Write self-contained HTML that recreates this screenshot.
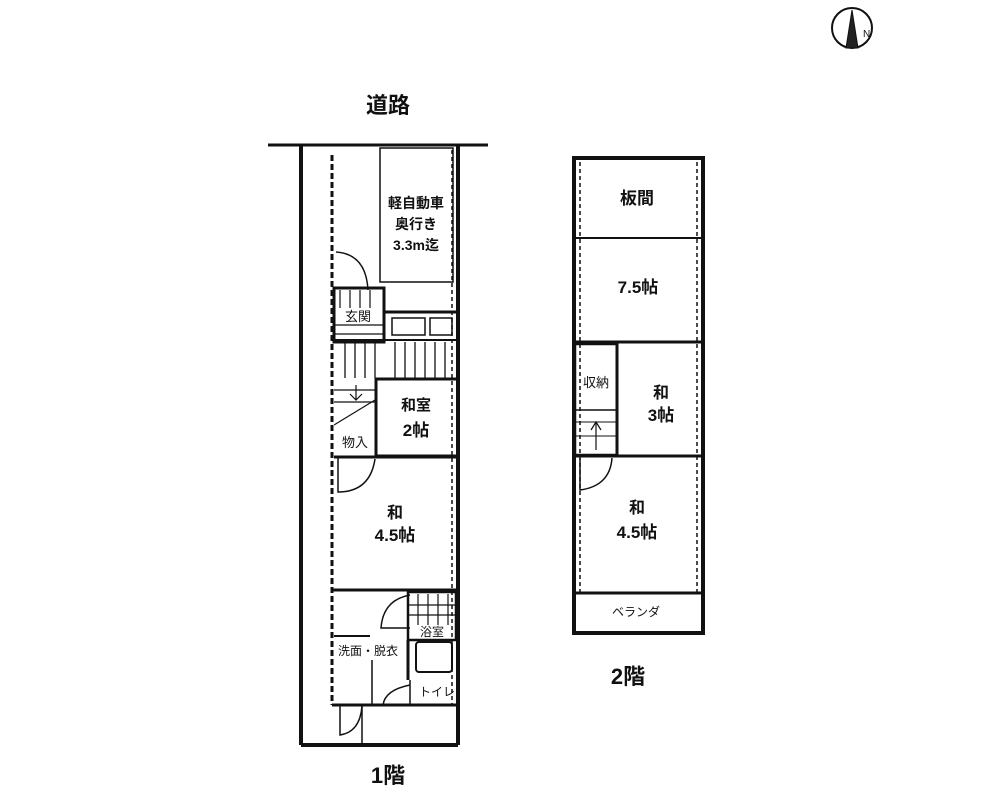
<!DOCTYPE html>
<html><head><meta charset="utf-8"><style>
body{margin:0;background:#fff}
svg{display:block}
text{font-family:"Liberation Sans","Noto Sans CJK JP",sans-serif;fill:#111}
.b{font-weight:bold}
</style></head><body>
<svg width="1000" height="795" viewBox="0 0 1000 795" xmlns="http://www.w3.org/2000/svg">
<g fill="none" stroke="#111">
<!-- north -->
<circle cx="852" cy="28" r="20" stroke-width="2"/>
<path d="M852 10 L846 48 L858 48 Z" fill="#222" stroke-width="1"/>
<!-- road -->
<line x1="268" y1="145" x2="488" y2="145" stroke-width="3"/>
<!-- 1F outer -->
<line x1="301" y1="145" x2="301" y2="745" stroke-width="4"/>
<line x1="458" y1="145" x2="458" y2="745" stroke-width="4"/>
<line x1="301" y1="745" x2="458" y2="745" stroke-width="4"/>
<line x1="332" y1="155" x2="332" y2="705" stroke-width="3" stroke-dasharray="6 3"/>
<line x1="452" y1="150" x2="452" y2="705" stroke-width="1.5" stroke-dasharray="4 3"/>
<!-- parking -->
<rect x="380" y="148" width="73" height="134" stroke-width="1.5"/>
<!-- entry door -->
<path d="M336 252 Q366 254 368 290" stroke-width="1.5"/>
<!-- genkan -->
<rect x="334" y="288" width="50" height="54" stroke-width="3"/>
<g stroke-width="1.2">
<line x1="340" y1="290" x2="340" y2="308"/><line x1="350" y1="290" x2="350" y2="308"/><line x1="360" y1="290" x2="360" y2="308"/><line x1="370" y1="290" x2="370" y2="308"/>
<line x1="334" y1="325" x2="384" y2="325"/><line x1="334" y1="334" x2="384" y2="334"/>
</g>
<!-- kitchen -->
<line x1="385" y1="312" x2="458" y2="312" stroke-width="3"/>
<rect x="392" y="318" width="33" height="17" stroke-width="1.5"/>
<rect x="430" y="318" width="22" height="17" stroke-width="1.5"/>
<line x1="334" y1="340" x2="458" y2="340" stroke-width="2"/>
<g stroke-width="1.3">
<line x1="345" y1="342" x2="345" y2="378"/><line x1="355" y1="342" x2="355" y2="378"/><line x1="365" y1="342" x2="365" y2="378"/><line x1="375" y1="342" x2="375" y2="378"/>
<line x1="395" y1="342" x2="395" y2="378"/><line x1="405" y1="342" x2="405" y2="378"/><line x1="415" y1="342" x2="415" y2="378"/><line x1="425" y1="342" x2="425" y2="378"/><line x1="435" y1="342" x2="435" y2="378"/><line x1="445" y1="342" x2="445" y2="378"/>
</g>
<!-- 2jo room -->
<rect x="376" y="379" width="82" height="77" stroke-width="3"/>
<!-- stairs -->
<line x1="334" y1="390" x2="376" y2="390" stroke-width="1.2"/>
<line x1="334" y1="402" x2="376" y2="402" stroke-width="1.2"/>
<line x1="356" y1="385" x2="356" y2="400" stroke-width="1.2"/>
<path d="M350 394 L356 400 L362 394" stroke-width="1.2"/>
<line x1="334" y1="425" x2="375" y2="400" stroke-width="1.2"/>
<line x1="334" y1="457" x2="458" y2="457" stroke-width="3"/>
<!-- 4.5 room door -->
<path d="M338 457 L338 492 Q370 492 375 459" stroke-width="1.5"/>
<line x1="332" y1="590" x2="458" y2="590" stroke-width="3"/>
<!-- bath -->
<rect x="408" y="592" width="48" height="48" stroke-width="2.5"/>
<g stroke-width="1.2">
<line x1="418" y1="594" x2="418" y2="625"/><line x1="428" y1="594" x2="428" y2="625"/><line x1="438" y1="594" x2="438" y2="625"/><line x1="448" y1="594" x2="448" y2="625"/>
<line x1="408" y1="605" x2="456" y2="605"/><line x1="408" y1="615" x2="456" y2="615"/>
</g>
<rect x="416" y="642" width="36" height="30" rx="3" stroke-width="2"/>
<line x1="408" y1="640" x2="408" y2="680" stroke-width="3"/>
<path d="M410 595 Q383 600 381 628 L410 628" stroke-width="1.5"/>
<line x1="334" y1="636" x2="370" y2="636" stroke-width="2"/>
<line x1="372" y1="660" x2="372" y2="705" stroke-width="1.5"/>
<path d="M410 685 Q385 690 383 705" stroke-width="1.5"/>
<line x1="410" y1="680" x2="410" y2="705" stroke-width="1.5"/>
<line x1="332" y1="705" x2="458" y2="705" stroke-width="3"/>
<path d="M340 706 L340 735 Q360 732 362 706" stroke-width="1.5"/>
<line x1="362" y1="706" x2="362" y2="745" stroke-width="1.5"/>
<!-- 2F -->
<rect x="574" y="158" width="129" height="475" stroke-width="4"/>
<line x1="580" y1="162" x2="580" y2="593" stroke-width="1.5" stroke-dasharray="4 3"/>
<line x1="697" y1="162" x2="697" y2="593" stroke-width="1.5" stroke-dasharray="4 3"/>
<line x1="574" y1="238" x2="703" y2="238" stroke-width="2"/>
<line x1="574" y1="342" x2="703" y2="342" stroke-width="3"/>
<rect x="575" y="344" width="42" height="111" stroke-width="2.5"/>
<line x1="617" y1="342" x2="617" y2="455" stroke-width="3"/>
<line x1="576" y1="410" x2="616" y2="410" stroke-width="1.5"/>
<line x1="576" y1="422" x2="616" y2="422" stroke-width="1"/>
<line x1="576" y1="436" x2="616" y2="436" stroke-width="1"/>
<line x1="596" y1="450" x2="596" y2="422" stroke-width="1.2"/>
<path d="M591 430 L596 422 L601 430" stroke-width="1.2"/>
<line x1="574" y1="456" x2="703" y2="456" stroke-width="3"/>
<path d="M580 458 L580 490 Q610 486 612 458" stroke-width="1.5"/>
<line x1="574" y1="593" x2="703" y2="593" stroke-width="3"/>
</g>
<g class="b">
<text x="388" y="113" font-size="22" text-anchor="middle">道路</text>
<text x="416" y="208" font-size="14" text-anchor="middle">軽自動車</text>
<text x="416" y="229" font-size="14" text-anchor="middle">奥行き</text>
<text x="416" y="250" font-size="14" text-anchor="middle">3.3m迄</text>
<text x="416" y="410" font-size="15" text-anchor="middle">和室</text>
<text x="416" y="436" font-size="17" text-anchor="middle">2帖</text>
<text x="395" y="518" font-size="16" text-anchor="middle">和</text>
<text x="395" y="541" font-size="17" text-anchor="middle">4.5帖</text>
<text x="388" y="783" font-size="22" text-anchor="middle">1階</text>
<text x="637" y="204" font-size="17" text-anchor="middle">板間</text>
<text x="638" y="293" font-size="17" text-anchor="middle">7.5帖</text>
<text x="661" y="398" font-size="16" text-anchor="middle">和</text>
<text x="661" y="421" font-size="17" text-anchor="middle">3帖</text>
<text x="637" y="513" font-size="16" text-anchor="middle">和</text>
<text x="637" y="538" font-size="17" text-anchor="middle">4.5帖</text>
<text x="628" y="684" font-size="22" text-anchor="middle">2階</text>
</g>
<text x="863" y="37" font-size="10">N</text>
<text x="358" y="321" font-size="13" text-anchor="middle">玄関</text>
<text x="355" y="447" font-size="13" text-anchor="middle">物入</text>
<text x="432" y="636" font-size="12" text-anchor="middle">浴室</text>
<text x="368" y="655" font-size="12" text-anchor="middle">洗面・脱衣</text>
<text x="437" y="696" font-size="12" text-anchor="middle">トイレ</text>
<text x="596" y="387" font-size="13" text-anchor="middle">収納</text>
<text x="636" y="616" font-size="12" text-anchor="middle">ベランダ</text>
</svg>
</body></html>
